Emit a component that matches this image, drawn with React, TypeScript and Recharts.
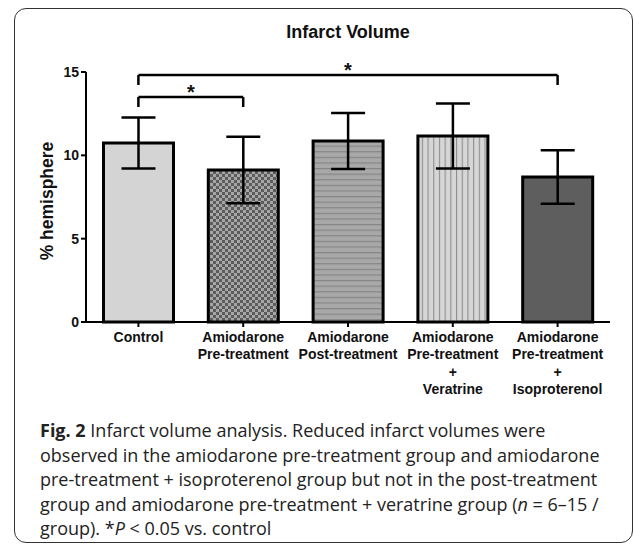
import React from 'react';
import { BarChart, Bar, XAxis, YAxis, ErrorBar, Cell, ReferenceLine } from 'recharts';

const categories = [
  'Control',
  'Amiodarone Pre-treatment',
  'Amiodarone Post-treatment',
  'Amiodarone Pre-treatment + Veratrine',
  'Amiodarone Pre-treatment + Isoproterenol',
];
const tickLines = [
  ['Control'],
  ['Amiodarone', 'Pre-treatment'],
  ['Amiodarone', 'Post-treatment'],
  ['Amiodarone', 'Pre-treatment', '+', 'Veratrine'],
  ['Amiodarone', 'Pre-treatment', '+', 'Isoproterenol'],
];
const means = [10.74, 9.12, 10.86, 11.16, 8.7];
const errors = [1.53, 2.0, 1.68, 1.95, 1.6];
const yTicks = [0, 5, 10, 15];
const fills = ['url(#p0)', 'url(#p1)', 'url(#p2)', 'url(#p3)', 'url(#p4)'];

const data = categories.map((c, i) => ({ name: c, value: means[i], err: errors[i] }));

const FONT = '"Liberation Sans", Arial, sans-serif';

const XTick = (props: any) => {
  const { x, y, payload } = props;
  const lines = tickLines[payload.index] || [payload.value];
  return (
    <text x={x} y={y + 13} textAnchor="middle" fontFamily={FONT} fontWeight="bold" fontSize={14} fill="#111">
      {lines.map((l: string, i: number) => (
        <tspan key={i} x={x} dy={i === 0 ? 0 : 17.3}>{l}</tspan>
      ))}
    </text>
  );
};

export default function App() {
  return (
    <div style={{ position: 'absolute', left: 0, top: 0, width: 634, height: 546, background: '#fff', overflow: 'hidden' }}>
      <div style={{ position: 'absolute', left: 14, top: 8, width: 619, height: 535, border: '1.5px solid #333', borderRadius: 12, boxSizing: 'border-box' }} />
      <div style={{ position: 'absolute', left: 248, width: 200, top: 21.7, lineHeight: '20px', textAlign: 'center', fontFamily: FONT, fontWeight: 'bold', fontSize: 18, color: '#111' }}>
        Infarct Volume
      </div>
      <div style={{ position: 'absolute', left: 0, top: 0 }}>
        <BarChart width={634} height={430} data={data} margin={{ top: 72, right: 24, bottom: 18, left: 0 }} barCategoryGap="16.7%">
          <defs>
            <pattern id="p0" patternUnits="userSpaceOnUse" width={6} height={6}>
              <rect width={6} height={6} fill="#d4d4d4" />
            </pattern>
            <pattern id="p1" patternUnits="userSpaceOnUse" width={6} height={6}>
              <rect width={6} height={6} fill="#a6a6a6" />
              <rect width={3} height={3} fill="#5c5c5c" />
              <rect x={3} y={3} width={3} height={3} fill="#5c5c5c" />
            </pattern>
            <pattern id="p2" patternUnits="userSpaceOnUse" width={6} height={5.6}>
              <rect width={6} height={5.6} fill="#a8a8a8" />
              <rect y={0} width={6} height={1.2} fill="#858585" />
            </pattern>
            <pattern id="p3" patternUnits="userSpaceOnUse" width={5.7} height={6}>
              <rect width={5.7} height={6} fill="#d6d6d6" />
              <rect x={0} width={1.1} height={6} fill="#8e8e8e" />
            </pattern>
            <pattern id="p4" patternUnits="userSpaceOnUse" width={6} height={6}>
              <rect width={6} height={6} fill="#5e5e5e" />
            </pattern>
          </defs>
          <XAxis
            dataKey="name"
            height={90}
            interval={0}
            tick={<XTick />}
            tickSize={5}
            tickMargin={2}
            stroke="#000"
            strokeWidth={2}
            tickLine={{ stroke: '#000', strokeWidth: 2 }}
          />
          <YAxis
            width={86}
            domain={[0, 15]}
            ticks={yTicks}
            tickSize={5}
            tickMargin={2}
            stroke="#000"
            strokeWidth={2}
            tickLine={{ stroke: '#000', strokeWidth: 2 }}
            tick={{ fill: '#111', fontFamily: FONT, fontWeight: 'bold', fontSize: 14 }}
            label={{ value: '% hemisphere', angle: -90, position: 'center', dx: 4, dy: 4, style: { fontFamily: FONT, fontWeight: 'bold', fontSize: 17.5, fill: '#111' } }}
          />
          <Bar dataKey="value" stroke="#000" strokeWidth={3} isAnimationActive={false}>
            {data.map((d, i) => (
              <Cell key={i} fill={fills[i]} />
            ))}
            <ErrorBar dataKey="err" width={17} strokeWidth={2.5} stroke="#000" direction="y" isAnimationActive={false} />
          </Bar>
          <ReferenceLine
            segment={[{ x: categories[0], y: 14.82 }, { x: categories[4], y: 14.82 }]}
            stroke="#000" strokeWidth={2.5} ifOverflow="visible"
            label={{ value: '*', position: 'top', offset: -2, style: { fontFamily: FONT, fontWeight: 'bold', fontSize: 20, fill: '#111' } }}
          />
          <ReferenceLine segment={[{ x: categories[0], y: 14.82 }, { x: categories[0], y: 14.22 }]} stroke="#000" strokeWidth={2.5} ifOverflow="visible" />
          <ReferenceLine segment={[{ x: categories[4], y: 14.82 }, { x: categories[4], y: 14.22 }]} stroke="#000" strokeWidth={2.5} ifOverflow="visible" />
          <ReferenceLine
            segment={[{ x: categories[0], y: 13.5 }, { x: categories[1], y: 13.5 }]}
            stroke="#000" strokeWidth={2.5} ifOverflow="visible"
            label={{ value: '*', position: 'top', offset: -2, style: { fontFamily: FONT, fontWeight: 'bold', fontSize: 20, fill: '#111' } }}
          />
          <ReferenceLine segment={[{ x: categories[0], y: 13.5 }, { x: categories[0], y: 12.9 }]} stroke="#000" strokeWidth={2.5} ifOverflow="visible" />
          <ReferenceLine segment={[{ x: categories[1], y: 13.5 }, { x: categories[1], y: 12.9 }]} stroke="#000" strokeWidth={2.5} ifOverflow="visible" />
        </BarChart>
      </div>
      <div style={{ position: 'absolute', left: 40, top: 418, lineHeight: '24.6px', fontFamily: '"Open Sans", sans-serif', fontSize: 18, color: '#222', whiteSpace: 'nowrap' }}>
        <div><b>Fig. 2</b> Infarct volume analysis. Reduced infarct volumes were</div>
        <div>observed in the amiodarone pre-treatment group and amiodarone</div>
        <div>pre-treatment + isoproterenol group but not in the post-treatment</div>
        <div>group and amiodarone pre-treatment + veratrine group (<i>n</i> = 6–15 /</div>
        <div>group). *<i>P</i> &lt; 0.05 vs. control</div>
      </div>
    </div>
  );
}
